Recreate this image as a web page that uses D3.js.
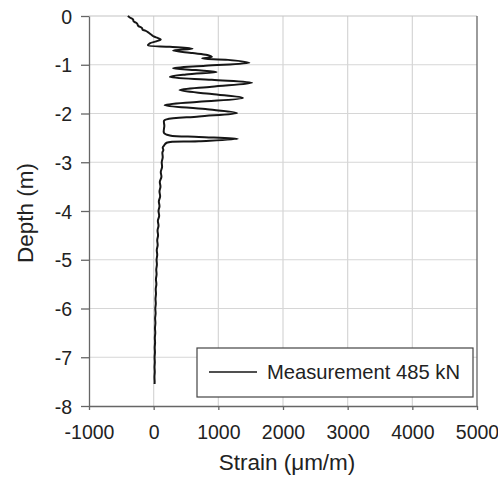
<!DOCTYPE html>
<html>
<head>
<meta charset="utf-8">
<script src="https://cdn.jsdelivr.net/npm/d3@7"></script>
<style>
  body { margin: 0; background: #fff; }
  text { font-family: "Liberation Sans", Arial, sans-serif; fill: #222; }
</style>
</head>
<body>
<svg width="498" height="481"></svg>
<script>
// depth (m) and strain (µm/m)
var depth = [0, -0.03, -0.07, -0.11, -0.14, -0.17, -0.20, -0.25, -0.28, -0.30, -0.33, -0.38,
  -0.42, -0.45, -0.48, -0.52, -0.56, -0.60, -0.63, -0.67, -0.71, -0.76,
  -0.80, -0.84, -0.87, -0.90, -0.96, -1.02, -1.07, -1.11, -1.15, -1.20,
  -1.25, -1.31, -1.37, -1.45, -1.52, -1.60, -1.68, -1.76, -1.83, -1.91,
  -1.99, -2.06, -2.12, -2.15, -2.25, -2.40, -2.45, -2.48, -2.52, -2.57,
  -2.60, -2.66, -2.70, -2.75, -2.80, -2.90, -3.00, -3.10, -3.20, -3.30,
  -3.40, -3.50, -3.60, -3.70, -3.80, -3.90, -4.00, -4.10, -4.20, -4.30,
  -4.40, -4.50, -4.60, -4.70, -4.80, -4.90, -5.00, -5.10, -5.20, -5.30,
  -5.40, -5.50, -5.60, -5.70, -5.80, -5.90, -6.00, -6.10, -6.20, -6.30,
  -6.40, -6.50, -6.60, -6.70, -6.80, -6.90, -7.00, -7.10, -7.20, -7.30,
  -7.40, -7.50, -7.55];
var strain = [-400, -370, -320, -310, -270, -250, -240, -180, -170, -130, -90, -40,
  0, 60, 110, 40, -60, -90, 250, 600, 300, 600,
  830, 900, 750, 1150, 1480, 800, 300, 650, 975, 500,
  250, 900, 1520, 900, 400, 900, 1380, 700, 170, 800,
  1290, 700, 200, 160, 165, 160, 250, 700, 1300, 700,
  200, 160, 140, 150, 135, 140, 125, 130, 110, 120,
  95, 105, 90, 100, 80, 90, 75, 85, 65, 75,
  60, 68, 55, 62, 48, 55, 45, 50, 40, 45,
  35, 42, 32, 36, 28, 33, 25, 30, 22, 27,
  20, 25, 18, 22, 16, 20, 14, 18, 13, 17,
  12, 15, 14];

var xTicks = [-1000, 0, 1000, 2000, 3000, 4000, 5000];
var yTicks = [0, -1, -2, -3, -4, -5, -6, -7, -8];
var seriesName = "Measurement 485 kN";

var svg = d3.select("svg"),
    margin = {top: 16, right: 21, bottom: 75, left: 89},
    width = +svg.attr("width"),
    height = +svg.attr("height");

var x = d3.scaleLinear()
    .domain([-1000, 5000])
    .range([margin.left, width - margin.right]);
var y = d3.scaleLinear()
    .domain([-8, 0])
    .range([height - margin.bottom, margin.top]);

// plain hyphen minus, as in the original
var fmt = function(d) { return String(d); };

// grid
svg.append("g")
    .attr("stroke", "#d6d6d6")
    .attr("stroke-width", 1.2)
  .selectAll("line.v")
  .data(xTicks.slice(1, -1))
  .enter().append("line")
    .attr("x1", function(d) { return x(d); })
    .attr("x2", function(d) { return x(d); })
    .attr("y1", y(0))
    .attr("y2", y(-8));

svg.append("g")
    .attr("stroke", "#d6d6d6")
    .attr("stroke-width", 1.2)
  .selectAll("line.h")
  .data(yTicks.slice(0, -1))
  .enter().append("line")
    .attr("x1", x(-1000))
    .attr("x2", x(5000))
    .attr("y1", function(d) { return y(d); })
    .attr("y2", function(d) { return y(d); })
    .attr("stroke", function(d) { return d === 0 ? "#c4c4c4" : null; });

// right border
svg.append("line")
    .attr("x1", x(5000)).attr("x2", x(5000))
    .attr("y1", y(0)).attr("y2", y(-8))
    .attr("stroke", "#666")
    .attr("stroke-width", 1.3);

var xAxis = svg.append("g")
    .attr("transform", "translate(0," + y(-8) + ")")
    .call(d3.axisBottom(x).tickValues(xTicks).tickFormat(fmt)
      .tickSize(4).tickSizeOuter(0).tickPadding(15));

var yAxis = svg.append("g")
    .attr("transform", "translate(" + x(-1000) + ",0)")
    .call(d3.axisLeft(y).tickValues(yTicks).tickFormat(fmt)
      .tickSize(8).tickSizeOuter(0).tickPadding(9));

[xAxis, yAxis].forEach(function(g) {
  g.selectAll(".domain, line").attr("stroke", "#666").attr("stroke-width", 1.3);
  g.selectAll("text").attr("font-size", 19.5).attr("fill", "#222")
    .attr("font-family", "Liberation Sans, Arial, sans-serif");
});
yAxis.selectAll("text").attr("dy", "0.36em");

// profile
svg.append("path")
    .datum(d3.zip(strain, depth))
    .attr("fill", "none")
    .attr("stroke", "#161616")
    .attr("stroke-width", 2)
    .attr("stroke-linejoin", "round")
    .attr("d", d3.line()
      .curve(d3.curveCatmullRom.alpha(0.5))
      .x(function(d) { return x(d[0]); })
      .y(function(d) { return y(d[1]); }));

// axis titles
svg.append("text")
    .attr("x", 287)
    .attr("y", 470)
    .attr("text-anchor", "middle")
    .attr("font-size", 22.5)
    .text("Strain (\u03bcm/m)");

svg.append("text")
    .attr("transform", "translate(33,213) rotate(-90)")
    .attr("text-anchor", "middle")
    .attr("font-size", 22.5)
    .text("Depth (m)");

// legend
var legend = svg.append("g");
legend.append("rect")
    .attr("x", 197).attr("y", 348)
    .attr("width", 276).attr("height", 49)
    .attr("fill", "#fff")
    .attr("stroke", "#444")
    .attr("stroke-width", 1.2);
legend.append("line")
    .attr("x1", 209).attr("x2", 257)
    .attr("y1", 372).attr("y2", 372)
    .attr("stroke", "#161616")
    .attr("stroke-width", 1.5);
legend.append("text")
    .attr("x", 267).attr("y", 379)
    .attr("font-size", 20.2)
    .text(seriesName);
</script>
</body>
</html>
